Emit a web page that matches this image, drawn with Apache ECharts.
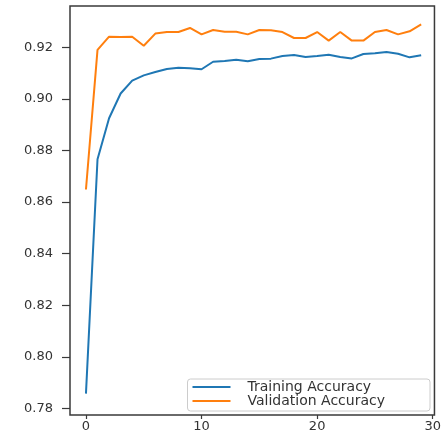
<!DOCTYPE html>
<html>
<head>
<meta charset="utf-8">
<script src="https://cdn.jsdelivr.net/npm/echarts@6/dist/echarts.min.js"></script>
<style>
html,body{margin:0;padding:0;background:#fff;}
#c{width:444px;height:434px;}
</style>
</head>
<body>
<div id="c"></div>
<script>
const epochs = [0,1,2,3,4,5,6,7,8,9,10,11,12,13,14,15,16,17,18,19,20,21,22,23,24,25,26,27,28,29];
const trainingAccuracy = [0.7858,0.8766,0.8925,0.9021,0.9071,0.9091,0.9104,0.9116,0.9121,0.9119,0.9115,0.9144,0.9147,0.9152,0.9146,0.9155,0.9156,0.9166,0.9170,0.9162,0.9166,0.9171,0.9162,0.9157,0.9174,0.9177,0.9182,0.9175,0.9161,0.9169];
const validationAccuracy = [0.8649,0.9190,0.9241,0.9240,0.9241,0.9206,0.9253,0.9259,0.9259,0.9275,0.9250,0.9267,0.9260,0.9260,0.9250,0.9267,0.9266,0.9259,0.9236,0.9236,0.9259,0.9226,0.9259,0.9226,0.9226,0.9259,0.9267,0.9250,0.9262,0.9289];
const xTicks = [0,10,20,30];
const yTicks = [0.78,0.80,0.82,0.84,0.86,0.88,0.90,0.92];

const chart = echarts.init(document.getElementById('c'), null, {renderer:'canvas'});
const font = 'DejaVu Sans';
chart.setOption({
  animation:false,
  backgroundColor:'#ffffff',
  grid:{left:70,right:8,top:6,bottom:19,show:true,borderColor:'#3a3a3a',borderWidth:1.5,backgroundColor:'transparent'},
  xAxis:{
    type:'value',min:-1.38,max:30.15,
    axisLine:{show:false,onZero:false},
    splitLine:{show:false},
    axisTick:{show:true,customValues:xTicks,length:4,lineStyle:{color:'#3a3a3a',width:1.2}},
    axisLabel:{customValues:xTicks,color:'#333',fontFamily:font,fontSize:13,margin:5,showMaxLabel:true,showMinLabel:true}
  },
  yAxis:{
    type:'value',min:0.7775,max:0.936,
    axisLine:{show:false,onZero:false},
    splitLine:{show:false},
    axisTick:{show:true,customValues:yTicks,length:8,lineStyle:{color:'#3a3a3a',width:1.2}},
    axisLabel:{customValues:yTicks,color:'#333',fontFamily:font,fontSize:13,margin:17,formatter:v=>v.toFixed(2)}
  },
  legend:{
    orient:'vertical',right:14,bottom:23,
    backgroundColor:'#fff',borderColor:'#cccccc',borderWidth:1,borderRadius:3,
    padding:[1,45,3,5],itemGap:0,itemWidth:38,itemHeight:2,icon:'rect',
    textStyle:{fontFamily:font,fontSize:14,lineHeight:14,color:'#333',padding:[0,0,0,12]},
    data:['Training Accuracy','Validation Accuracy']
  },
  series:[
    {name:'Training Accuracy',type:'line',symbol:'none',color:'#1f77b4',lineStyle:{width:2,color:'#1f77b4'},data:epochs.map((e,i)=>[e,trainingAccuracy[i]])},
    {name:'Validation Accuracy',type:'line',symbol:'none',color:'#ff7f0e',lineStyle:{width:2,color:'#ff7f0e'},data:epochs.map((e,i)=>[e,validationAccuracy[i]])}
  ]
});
</script>
</body>
</html>
